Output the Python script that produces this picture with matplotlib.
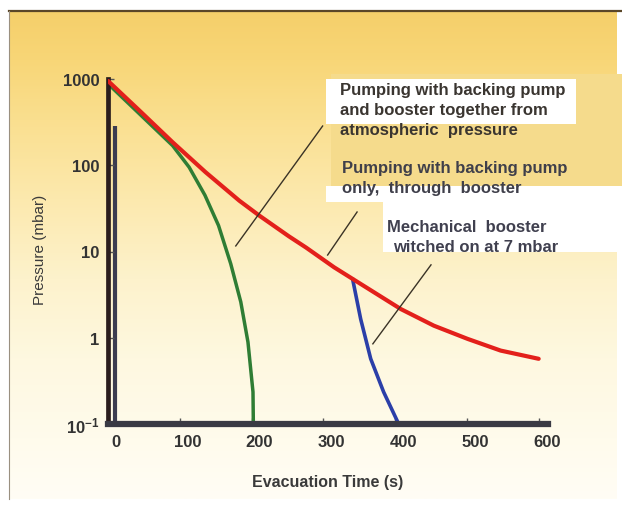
import matplotlib
matplotlib.use("Agg")
import matplotlib.pyplot as plt
import numpy as np
from matplotlib.patches import Rectangle
from matplotlib.colors import LinearSegmentedColormap
from matplotlib.ticker import NullLocator
from matplotlib.transforms import ScaledTranslation

plt.rcParams['font.family'] = ['Liberation Sans', 'DejaVu Sans']
plt.rcParams['mathtext.fontset'] = 'custom'
plt.rcParams['mathtext.rm'] = 'Liberation Sans:bold'
plt.rcParams['mathtext.it'] = 'Liberation Sans:bold'
plt.rcParams['mathtext.bf'] = 'Liberation Sans:bold'

# ---- data (time in s, pressure in mbar) ----
red_t = [0, 44, 90, 136, 183, 211, 252, 276, 315, 341, 408, 454, 501, 547, 600]
red_p = [950, 429, 185, 83, 38.8, 26.0, 15.0, 11.1, 6.56, 4.8, 2.15, 1.38, 0.97, 0.71, 0.57]
green_t = [0, 44, 90, 113, 135, 154, 171, 185, 195, 202, 202.5]
green_p = [880, 393, 169, 95, 45, 20, 7.2, 2.6, 0.89, 0.235, 0.1]
blue_t = [341, 352, 366, 384, 405]
blue_p = [4.7, 1.65, 0.57, 0.235, 0.1]
leader_t = [(178, 299), (306, 347), (369, 450)]
leader_p = [(11.6, 285), (9.1, 28.7), (0.85, 7.0)]
xticks = [0, 100, 200, 300, 400, 500, 600]
yticks = [0.1, 1, 10, 100, 1000]
ylabels = ["10$^{-1}$", "1", "10", "100", "1000"]

W, H = 622, 510
fig = plt.figure(figsize=(W/100, H/100), dpi=100)
fig.patch.set_facecolor("white")

# background in pixel coords
bg = fig.add_axes([0, 0, 1, 1]); bg.set_xlim(0, W); bg.set_ylim(H, 0); bg.axis("off")
stops = [(12, "#f5cf6a"), (60, "#f8d677"), (120, "#fadf8f"), (200, "#fce9ae"),
         (280, "#fdf2cc"), (360, "#fef8e0"), (440, "#fffbec"), (500, "#fffdf5")]
cmap = LinearSegmentedColormap.from_list("bg", [((y-12)/488, c) for y, c in stops])
bg.imshow(np.linspace(0, 1, 256).reshape(-1, 1), cmap=cmap, extent=(9, 617, 500, 12), aspect="auto")
bg.plot([9, 622], [12, 12], color="#5a4628", lw=1.6)
bg.plot([9, 9], [12, 500], color="#9a9080", lw=0.8)
bg.add_patch(Rectangle((331, 75), 291, 112, fc="#f5db8c", ec="none"))
bg.add_patch(Rectangle((326, 80), 250, 45, fc="white", ec="none"))
bg.add_patch(Rectangle((326, 187), 57, 16, fc="white", ec="none"))
bg.add_patch(Rectangle((383, 187), 236, 66, fc="white", ec="none"))
bg.plot([115, 115], [127, 425], color="#3c3c50", lw=3, solid_capstyle="butt")

# main chart
ax = fig.add_axes([108/W, 1-425/H, 440/W, 345/H])
ax.patch.set_alpha(0)
ax.set_yscale("log")
ax.plot(red_t, red_p, color="#e3201b", lw=3.0, solid_capstyle="round", solid_joinstyle="round", zorder=3)
ax.plot(green_t, green_p, color="#2f7d34", lw=2.5, solid_joinstyle="round", zorder=2)
ax.plot(blue_t, blue_p, color="#2b3fa8", lw=2.6, solid_joinstyle="round", zorder=2)
for lt, lp in zip(leader_t, leader_p):
    ax.plot(lt, lp, color="#3a3326", lw=1.0, zorder=4)
ax.set_xlim(0, 613); ax.set_ylim(0.1, 1000)
for sp in ["top", "right"]: ax.spines[sp].set_visible(False)
ax.spines["left"].set_color("#2b1d1d"); ax.spines["left"].set_linewidth(3.4)
ax.spines["bottom"].set_color("#3a3a44"); ax.spines["bottom"].set_linewidth(4.5)
ax.set_xticks(xticks); ax.set_xticklabels([str(v) for v in xticks])
ax.set_yticks(yticks); ax.set_yticklabels(ylabels)
ax.yaxis.set_minor_locator(NullLocator())
ax.tick_params(axis="both", direction="in", length=4, width=1, color="#555555",
               labelsize=12, labelcolor="#333333")
ax.tick_params(axis="y", pad=6); ax.tick_params(axis="x", pad=7)
for lb in ax.get_xticklabels() + ax.get_yticklabels(): lb.set_fontweight("bold")
for lb in ax.get_xticklabels():
    lb.set_transform(lb.get_transform() + ScaledTranslation(8/100, 0, fig.dpi_scale_trans))
ax.set_xlabel("Evacuation Time (s)", fontsize=11.5, fontweight="bold", color="#3a3a3a", labelpad=18)
fig.text(40/W, 1-250/H, "Pressure (mbar)", rotation=90, fontsize=11, color="#3a3a3a",
         ha="center", va="center")

# annotation texts
def t(x, y, s, c):
    fig.text(x/W, 1-y/H, s, fontsize=12, fontweight="bold", color=c, va="baseline", ha="left")
t(340, 95, "Pumping with backing pump", "#3a3530")
t(340, 115, "and booster together from", "#3a3530")
t(340, 135, "atmospheric  pressure", "#3a3530")
t(342, 173, "Pumping with backing pump", "#3f3f4a")
t(342, 193, "only,  through  booster", "#3f3f4a")
t(387, 232, "Mechanical  booster", "#40404f")
t(393, 252, "witched on at 7 mbar", "#40404f")

plt.savefig("out.png", dpi=100)
